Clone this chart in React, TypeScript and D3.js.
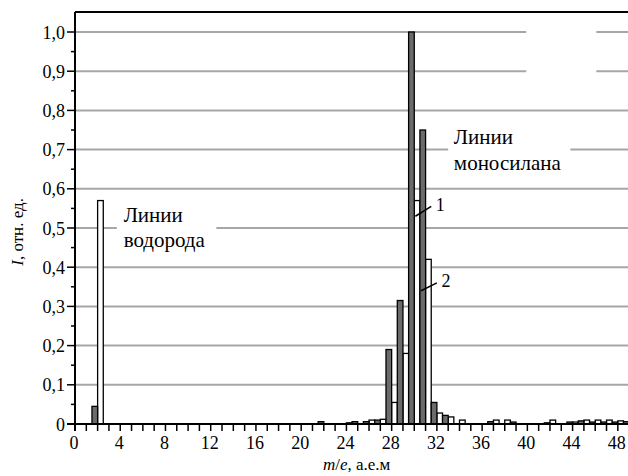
import React from "react";
import * as d3 from "d3";

// m/e values and relative intensities (1 - grey bars, 2 - white bars)
const MASS = [2, 22, 24, 25, 26, 27, 28, 29, 30, 31, 32, 33, 34, 37, 38, 39, 42, 44, 45, 46, 47, 48, 49];
const SERIES1 = [0.045, 0.006, 0, 0.006, 0.006, 0.01, 0.19, 0.315, 1.0, 0.75, 0.055, 0.022, 0, 0.006, 0, 0.005, 0.003, 0.005, 0.008, 0.005, 0.005, 0.005, 0.006];
const SERIES2 = [0.57, 0, 0.003, 0, 0.01, 0.012, 0.055, 0.18, 0.57, 0.42, 0.028, 0.018, 0.01, 0.01, 0.01, 0, 0.01, 0.005, 0.01, 0.01, 0.01, 0.008, 0.01];

const X_TICKS = [0, 4, 8, 12, 16, 20, 24, 28, 32, 36, 40, 44, 48];
const Y_TICKS = [0, 0.1, 0.2, 0.3, 0.4, 0.5, 0.6, 0.7, 0.8, 0.9, 1.0];

const W = 628;
const H = 476;
const margin = { top: 12, right: 0, bottom: 52, left: 75 };
const FONT = '"Liberation Serif", "Times New Roman", "DejaVu Serif", serif';

export default function App() {
  const x = d3.scaleLinear().domain([0, 48.9]).range([margin.left, W - margin.right]);
  const y = d3.scaleLinear().domain([0, 1]).range([424, 32]);
  const top = margin.top;
  const bottom = y(0);
  const half = 0.5;

  const fmt = (v: number) => (v === 0 ? "0" : d3.format(".1f")(v).replace(".", ","));

  const minorX = d3.range(0, 49, 1);
  const minorY = d3.range(0, 1.01, 0.05);

  // white boxes that interrupt the grid (labels and an empty area)
  const gaps = [
    { x0: 3.7, x1: 12.5, y0: 0.47, y1: 0.53 },
    { x0: 33.0, x1: 43.8, y0: 0.67, y1: 0.73 },
    { x0: 39.9, x1: 46.1, y0: 0.87, y1: 1.03 },
  ];

  const txt = { fontFamily: FONT } as React.CSSProperties;

  return (
    <svg width={W} height={H} style={{ position: "absolute", left: 0, top: 0, background: "#fff" }}>
      <defs>
        <clipPath id="plot">
          <rect x={margin.left} y={top} width={W - margin.left} height={bottom - top + 1} />
        </clipPath>
      </defs>

      {/* grid */}
      {Y_TICKS.filter((d) => d > 0).map((d) => (
        <line key={"g" + d} x1={margin.left} x2={W} y1={y(d)} y2={y(d)} stroke="#a6a6a6" strokeWidth={2} />
      ))}
      {gaps.map((g, i) => (
        <rect key={"gap" + i} x={x(g.x0)} width={x(g.x1) - x(g.x0)} y={y(g.y1)} height={y(g.y0) - y(g.y1)} fill="#fff" />
      ))}

      {/* bars */}
      <g clipPath="url(#plot)" strokeWidth={1.3} stroke="#000">
        {MASS.map((m, i) =>
          SERIES2[i] > 0 ? (
            <rect key={"b2" + m} x={x(m)} width={x(m + half) - x(m)} y={y(SERIES2[i])} height={bottom - y(SERIES2[i])} fill="#fff" />
          ) : null
        )}
        {MASS.map((m, i) =>
          SERIES1[i] > 0 ? (
            <rect key={"b1" + m} x={x(m - half)} width={x(m) - x(m - half)} y={y(SERIES1[i])} height={bottom - y(SERIES1[i])} fill="#6b6b6b" />
          ) : null
        )}
      </g>

      {/* frame */}
      <line x1={margin.left} x2={W} y1={top} y2={top} stroke="#000" strokeWidth={2} />
      <line x1={margin.left} x2={margin.left} y1={top} y2={bottom + 7} stroke="#000" strokeWidth={2} />
      <line x1={margin.left - 8} x2={W} y1={bottom} y2={bottom} stroke="#000" strokeWidth={2} />

      {/* x ticks */}
      {minorX.map((d) => (
        <line key={"xt" + d} x1={x(d)} x2={x(d)} y1={bottom} y2={bottom + 7} stroke="#000" strokeWidth={1.5} />
      ))}
      {X_TICKS.map((d) => (
        <text key={"xl" + d} x={x(d) - 1} y={bottom + 25} textAnchor="middle" style={txt} fontSize={18}>
          {d}
        </text>
      ))}

      {/* y ticks */}
      {minorY.map((d, i) => (
        <line key={"yt" + i} x1={margin.left - (i % 2 === 0 ? 8 : 4)} x2={margin.left} y1={y(d)} y2={y(d)} stroke="#000" strokeWidth={1.5} />
      ))}
      {Y_TICKS.map((d) => (
        <text key={"yl" + d} x={margin.left - 10} y={y(d) + 6.5} textAnchor="end" style={txt} fontSize={18}>
          {fmt(d)}
        </text>
      ))}

      {/* axis titles */}
      <text transform={`translate(23,${y(0.49)}) rotate(-90)`} textAnchor="middle" style={txt} fontSize={17}>
        <tspan fontStyle="italic">I</tspan>, отн. ед.
      </text>
      <text x={x(24.9)} y={470} textAnchor="middle" style={txt} fontSize={17}>
        <tspan fontStyle="italic">m</tspan>/<tspan fontStyle="italic">e</tspan>, а.е.м
      </text>

      {/* labels */}
      <text style={txt} fontSize={21}>
        <tspan x={x(4.3)} y={y(0.5) - 6}>Линии</tspan>
        <tspan x={x(4.3)} y={y(0.5) + 19}>водорода</tspan>
      </text>
      <text style={txt} fontSize={21}>
        <tspan x={x(33.5)} y={y(0.7) - 6}>Линии</tspan>
        <tspan x={x(33.5)} y={y(0.7) + 20}>моносилана</tspan>
      </text>

      {/* series markers */}
      <line x1={x(30.1)} y1={y(0.53)} x2={x(31.5)} y2={y(0.555)} stroke="#000" strokeWidth={1.5} />
      <text x={x(31.9)} y={y(0.555) + 5} style={txt} fontSize={18}>1</text>
      <line x1={x(30.6)} y1={y(0.34)} x2={x(32.0)} y2={y(0.36)} stroke="#000" strokeWidth={1.5} />
      <text x={x(32.4)} y={y(0.362) + 5} style={txt} fontSize={18}>2</text>
    </svg>
  );
}
